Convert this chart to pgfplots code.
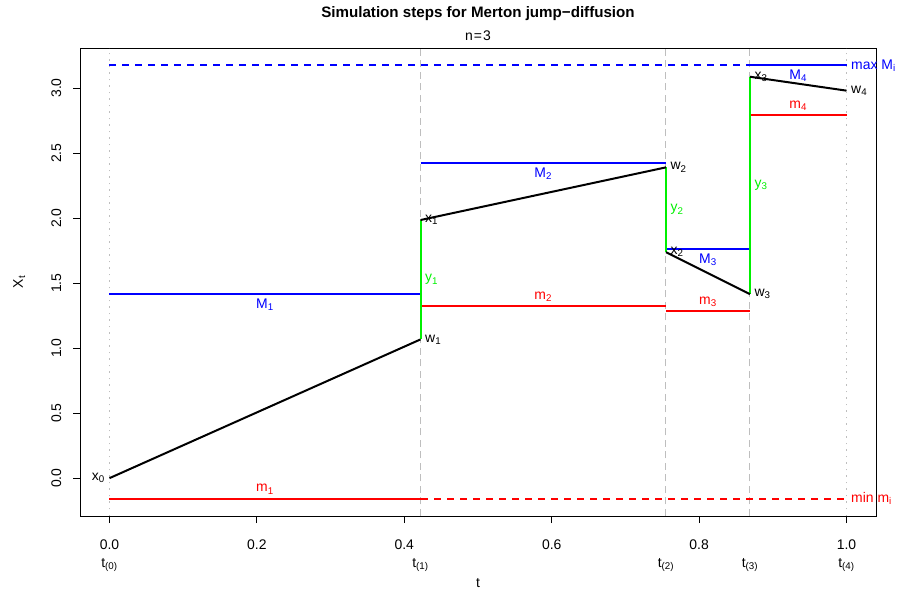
\documentclass[border=0pt]{standalone}
\usepackage{fontspec}
\setmainfont{Liberation Sans}
\usepackage{pgfplots}
\pgfplotsset{compat=1.18}
\usetikzlibrary{calc}

\definecolor{rblue}{RGB}{0,0,255}
\definecolor{rred}{RGB}{255,0,0}
\definecolor{rgreen}{RGB}{0,240,0}
\definecolor{rgray}{RGB}{190,190,190}

\tikzset{
  lab/.style={inner sep=1.5bp, font=\fontsize{14}{16}\selectfont},
  vdash/.style={rgray, line width=1bp, dash pattern=on 7bp off 4.5bp},
  vdot/.style={rgray, line width=1.2bp, dash pattern=on 1.5bp off 5bp},
}

\begin{document}
\begin{tikzpicture}[font=\fontsize{14}{16}\selectfont]
\begin{axis}[
    name=ax,
    width=796bp, height=468bp, scale only axis,
    xmin=-0.04, xmax=1.04, ymin=-0.291, ymax=3.308,
    clip=false,
    axis line style={black, line width=0.8bp},
    xtick={0,0.2,0.4,0.6,0.8,1.0},
    ytick={0,0.5,1,1.5,2,2.5,3},
    tick pos=left, tick align=outside,
    major tick length=7bp,
    tick style={black, line width=0.8bp},
    /pgf/number format/assume math mode=true,
    /pgf/number format/fixed, /pgf/number format/fixed zerofill,
    /pgf/number format/precision=1,
    xticklabel style={anchor=base, yshift=-26bp},
    yticklabel style={xshift=-12bp, rotate=90, anchor=base},
    extra x ticks={0,0.422,0.755,0.869,1},
    extra x tick labels={t\textsubscript{(0)},t\textsubscript{(1)},t\textsubscript{(2)},t\textsubscript{(3)},t\textsubscript{(4)}},
    extra x tick style={major tick length=0pt, xticklabel style={yshift=-25bp}},
    title={Simulation steps for Merton jump−diffusion},
    title style={at={(0.5,1)}, anchor=base, yshift=25bp, font=\bfseries\fontsize{15.2}{18}\selectfont},
    xlabel={t},
    ylabel={X\textsubscript{t}},
    every axis x label/.style={at={(rel axis cs:0.5,0)}, anchor=base, yshift=-71bp},
    every axis y label/.style={at={(rel axis cs:0,0.5)}, xshift=-57bp, rotate=90, anchor=base},
]

% grid times
\addplot[vdot] coordinates {(0,-0.291) (0,3.308)};
\addplot[vdot] coordinates {(1,-0.291) (1,3.308)};
\addplot[vdash] coordinates {(0.422,-0.291) (0.422,3.308)};
\addplot[vdash] coordinates {(0.755,-0.291) (0.755,3.308)};
\addplot[vdash] coordinates {(0.869,-0.291) (0.869,3.308)};

% overall max / min
\addplot[rblue, line width=2bp, dash pattern=on 7bp off 6bp] coordinates {(0,3.175) (1,3.175)};
\addplot[rred, line width=2bp, dash pattern=on 7bp off 6bp] coordinates {(0,-0.158) (1,-0.158)};

% interval maxima
\addplot[rblue, line width=2bp] coordinates {(0,1.415) (0.422,1.415)};
\addplot[rblue, line width=2bp] coordinates {(0.422,2.425) (0.755,2.425)};
\addplot[rblue, line width=2bp] coordinates {(0.755,1.762) (0.869,1.762)};
\addplot[rblue, line width=2bp] coordinates {(0.869,3.175) (1,3.175)};

% interval minima
\addplot[rred, line width=2bp] coordinates {(0,-0.158) (0.422,-0.158)};
\addplot[rred, line width=2bp] coordinates {(0.422,1.325) (0.755,1.325)};
\addplot[rred, line width=2bp] coordinates {(0.755,1.285) (0.869,1.285)};
\addplot[rred, line width=2bp] coordinates {(0.869,2.79) (1,2.79)};

% jumps
\addplot[rgreen, line width=2bp] coordinates {(0.422,1.067) (0.422,1.985)};
\addplot[rgreen, line width=2bp] coordinates {(0.755,2.39) (0.755,1.738)};
\addplot[rgreen, line width=2bp] coordinates {(0.869,1.415) (0.869,3.087)};

% diffusion pieces
\addplot[black, line width=2bp] coordinates {(0,0) (0.422,1.067)};
\addplot[black, line width=2bp] coordinates {(0.422,1.985) (0.755,2.39)};
\addplot[black, line width=2bp] coordinates {(0.755,1.738) (0.869,1.415)};
\addplot[black, line width=2bp] coordinates {(0.869,3.087) (1,2.98)};

% labels
\node[lab, anchor=east, xshift=-3bp] at (axis cs:0,0) {x\textsubscript{0}};
\node[lab, anchor=west, xshift=3bp] at (axis cs:0.422,1.985) {x\textsubscript{1}};
\node[lab, anchor=west, xshift=3bp] at (axis cs:0.755,1.738) {x\textsubscript{2}};
\node[lab, anchor=west, xshift=3bp] at (axis cs:0.869,3.087) {x\textsubscript{3}};
\node[lab, anchor=west, xshift=3bp] at (axis cs:0.422,1.067) {w\textsubscript{1}};
\node[lab, anchor=west, xshift=3bp] at (axis cs:0.755,2.39) {w\textsubscript{2}};
\node[lab, anchor=west, xshift=3bp] at (axis cs:0.869,1.415) {w\textsubscript{3}};
\node[lab, anchor=west, xshift=3bp] at (axis cs:1,2.98) {w\textsubscript{4}};
\node[lab, rgreen, anchor=west, xshift=3bp] at (axis cs:0.422,1.526) {y\textsubscript{1}};
\node[lab, rgreen, anchor=west, xshift=3bp] at (axis cs:0.755,2.064) {y\textsubscript{2}};
\node[lab, rgreen, anchor=west, xshift=3bp] at (axis cs:0.869,2.251) {y\textsubscript{3}};
\node[lab, rblue, anchor=north, yshift=-3bp] at (axis cs:0.211,1.415) {M\textsubscript{1}};
\node[lab, rblue, anchor=north, yshift=-3bp] at (axis cs:0.5885,2.425) {M\textsubscript{2}};
\node[lab, rblue, anchor=north, yshift=-3bp] at (axis cs:0.812,1.762) {M\textsubscript{3}};
\node[lab, rblue, anchor=north, yshift=-3bp] at (axis cs:0.9345,3.175) {M\textsubscript{4}};
\node[lab, rred, anchor=south, yshift=3bp] at (axis cs:0.211,-0.158) {m\textsubscript{1}};
\node[lab, rred, anchor=south, yshift=3bp] at (axis cs:0.5885,1.325) {m\textsubscript{2}};
\node[lab, rred, anchor=south, yshift=3bp] at (axis cs:0.812,1.285) {m\textsubscript{3}};
\node[lab, rred, anchor=south, yshift=3bp] at (axis cs:0.9345,2.79) {m\textsubscript{4}};
\node[lab, rblue, anchor=west, xshift=3bp] at (axis cs:1,3.175) {max M\textsubscript{i}};
\node[lab, rred, anchor=west, xshift=3bp] at (axis cs:1,-0.158) {min m\textsubscript{i}};
\node[lab, anchor=base, yshift=7bp] at (rel axis cs:0.5,1) {n\hspace{1bp}=\hspace{1bp}3};
\end{axis}
\pgfresetboundingbox
\useasboundingbox ($(ax.south west)+(-80bp,-77bp)$) rectangle ($(ax.north east)+(28bp,48bp)$);
\end{tikzpicture}
\end{document}
